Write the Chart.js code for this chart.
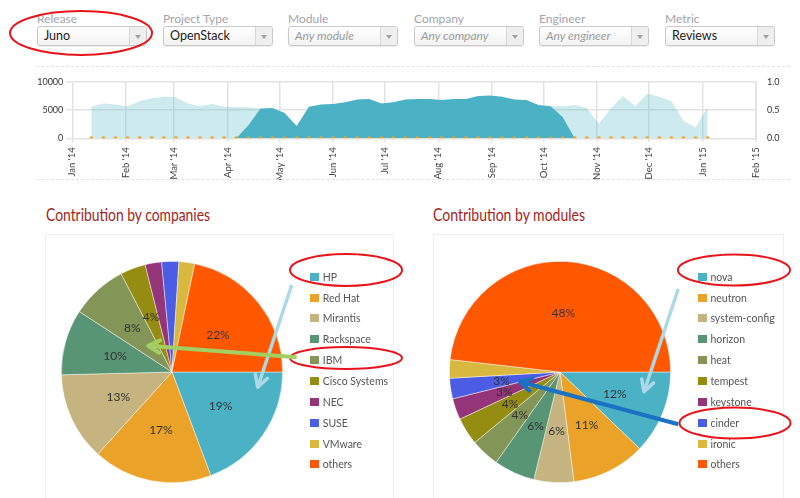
<!DOCTYPE html>
<html>
<head>
<meta charset="utf-8">
<script src="https://cdn.jsdelivr.net/npm/chart.js@4.4.1/dist/chart.umd.min.js"></script>
<style>
  html, body { margin: 0; padding: 0; background: #fff; }
  body { width: 800px; height: 498px; position: relative; overflow: hidden; font-family: Lato, "Noto Sans", sans-serif; }
  .filter { position: absolute; top: 11px; width: 110px; }
  .filter label { display: block; font-size: 12px; color: #a3a3ab; height: 15px; line-height: 15px; }
  .select { position: relative; height: 18px; border: 1px solid #c9c9c9; border-radius: 3px;
            background: linear-gradient(#fff, #f2f2f2); box-shadow: 0 1px 1px rgba(0,0,0,0.08); }
  .select span { position: absolute; left: 6px; top: 0; line-height: 18px; font-size: 12.5px; color: #222; }
  .select span.empty { font-style: italic; color: #9a9a9a; font-size: 12px; }
  .select i { position: absolute; right: 0; top: 0; width: 16px; height: 18px; border-left: 1px solid #d8d8d8;
              background: #efefef; border-radius: 0 3px 3px 0; }
  .select i:after { content: ""; position: absolute; left: 5px; top: 8px; border-left: 3px solid transparent;
                    border-right: 3px solid transparent; border-top: 4px solid #a0a0a0; }
  .dots { position: absolute; left: 36px; width: 754px; height: 0; border-top: 1px dashed #e2e2e2; }
  #timeline { position: absolute; left: 0; top: 66px; }
  .title { position: absolute; top: 205px; font-size: 17px; line-height: 20px; color: #a3241c;
           white-space: nowrap; transform-origin: 0 50%; }
  .box { position: absolute; top: 234px; height: 280px; border: 1px solid #efefef; }
  .pie { position: absolute; top: 235px; }
  .legend { position: absolute; top: 0; left: 0; margin: 0; padding: 0; list-style: none; }
  .legend li { position: absolute; height: 20px; line-height: 20px; font-size: 10.5px; color: #555; white-space: nowrap; }
  .legend li b { position: absolute; left: 0; top: 6px; width: 9px; height: 8px; }
  .legend li span { position: absolute; left: 12.7px; top: 0; }
  #notes { position: absolute; left: 0; top: 0; pointer-events: none; }
</style>
</head>
<body>

<div class="filter" style="left:37px"><label>Release</label><div class="select"><span>Juno</span><i></i></div></div>
<div class="filter" style="left:163px"><label>Project Type</label><div class="select"><span>OpenStack</span><i></i></div></div>
<div class="filter" style="left:288px"><label>Module</label><div class="select"><span class="empty">Any module</span><i></i></div></div>
<div class="filter" style="left:414px"><label>Company</label><div class="select"><span class="empty">Any company</span><i></i></div></div>
<div class="filter" style="left:539px"><label>Engineer</label><div class="select"><span class="empty">Any engineer</span><i></i></div></div>
<div class="filter" style="left:665px"><label>Metric</label><div class="select"><span>Reviews</span><i></i></div></div>

<div class="dots" style="top:66px"></div>
<canvas id="timeline" width="800" height="114"></canvas>
<div class="dots" style="top:179px"></div>

<div class="title" style="left:46px" data-w="164">Contribution by companies</div>
<div class="title" style="left:433px" data-w="152">Contribution by modules</div>
<div class="box" style="left:45px; width:347px"></div>
<div class="box" style="left:433px; width:349px"></div>
<canvas id="companies" class="pie" style="left:46px" width="347" height="263"></canvas>
<canvas id="modules" class="pie" style="left:434px" width="349" height="263"></canvas>
<ul id="companyLegend" class="legend"></ul>
<ul id="moduleLegend" class="legend"></ul>

<svg id="notes" width="800" height="498"></svg>

<script>
const FONT = 'Lato, "Noto Sans", sans-serif';

// weekly points of the timeline (week start dates)
const weeks = [
  '2014-01-12', '2014-01-19', '2014-01-26', '2014-02-02', '2014-02-09', '2014-02-16', '2014-02-23',
  '2014-03-02', '2014-03-09', '2014-03-16', '2014-03-23', '2014-03-30', '2014-04-06', '2014-04-13',
  '2014-04-20', '2014-04-27', '2014-05-04', '2014-05-11', '2014-05-18', '2014-05-25', '2014-06-01',
  '2014-06-08', '2014-06-15', '2014-06-22', '2014-06-29', '2014-07-06', '2014-07-13', '2014-07-20',
  '2014-07-27', '2014-08-03', '2014-08-10', '2014-08-17', '2014-08-24', '2014-08-31', '2014-09-07',
  '2014-09-14', '2014-09-21', '2014-09-28', '2014-10-05', '2014-10-12', '2014-10-19', '2014-10-26',
  '2014-11-02', '2014-11-09', '2014-11-16', '2014-11-23', '2014-11-30', '2014-12-07', '2014-12-14',
  '2014-12-21', '2014-12-28', '2015-01-04'
];
// reviews outside the selected release (light area)
const otherReviews = [
  5600, 6200, 6000, 5700, 6600, 7100, 7400, 7300, 6200, 5700, 6100, 5600, 5500, 5500, 5300,
  null, null, null, null, null, null, null, null, null, null, null, null, null, null, null,
  null, null, null, null, null, null, null, null,
  5700, 5700, 5900, 5400, 2600, 5400, 7500, 5700, 7900, 7400, 6600, 3100, 1900, 5600
];
// reviews in Juno (dark area)
const junoReviews = [
  null, null, null, null, null, null, null, null, null, null, null, null,
  0, 2300, 5300, 5400, 4500, 2200, 5600, 6000, 6100, 6400, 6900, 7000, 6200, 6400, 6900, 7000,
  7000, 6800, 7000, 7000, 7500, 7600, 7400, 6900, 6800, 5900, 5700, 3800, 0,
  null, null, null, null, null, null, null, null, null, null, null
];
// right axis series (all zero)
const secondary = [
  0, 0, 0, 0, 0, 0, 0, 0, 0, 0, 0, 0, 0, 0, 0, 0, 0, 0, 0, 0, 0, 0, 0, 0, 0, 0,
  0, 0, 0, 0, 0, 0, 0, 0, 0, 0, 0, 0, 0, 0, 0, 0, 0, 0, 0, 0, 0, 0, 0, 0, 0, 0
];
const monthTicks = [
  '2014-01-01', '2014-02-01', '2014-03-01', '2014-04-01', '2014-05-01', '2014-06-01', '2014-07-01',
  '2014-08-01', '2014-09-01', '2014-10-01', '2014-11-01', '2014-12-01', '2015-01-01', '2015-02-01'
];
const monthLabels = ["Jan '14", "Feb '14", "Mar '14", "Apr '14", "May '14", "Jun '14", "Jul '14",
                     "Aug '14", "Sep '14", "Oct '14", "Nov '14", "Dec '14", "Jan '15", "Feb '15"];

const companies = ['HP', 'Red Hat', 'Mirantis', 'Rackspace', 'IBM', 'Cisco Systems', 'NEC', 'SUSE', 'VMware', 'others'];
const companyShare = [19.3, 17.4, 12.9, 9.6, 8.2, 3.7, 2.4, 2.5, 2.3, 21.7];
const modules = ['nova', 'neutron', 'system-config', 'horizon', 'heat', 'tempest', 'keystone', 'cinder', 'ironic', 'others'];
const moduleShare = [12.2, 10.8, 5.8, 6.0, 4.2, 4.0, 3.1, 3.0, 2.7, 48.2];

const palette = ['#4bb2c5', '#eaa228', '#c5b47f', '#579575', '#839557', '#958c12', '#953579', '#4b5de4', '#d8b83f', '#ff5800'];

function dayOf(s) {
  const p = s.split('-').map(Number);
  return (Date.UTC(p[0], p[1] - 1, p[2]) - Date.UTC(2014, 0, 1)) / 86400000;
}
const weekDays = weeks.map(dayOf);
const monthDays = monthTicks.map(dayOf);
const points = vals => weekDays.map((x, i) => ({ x: x, y: vals[i] }));

const gridColor = '#e3e3e3';

new Chart(document.getElementById('timeline'), {
  type: 'line',
  data: {
    datasets: [
      { data: points(secondary), yAxisID: 'y2', showLine: false, pointRadius: 2, pointBorderWidth: 0,
        pointBackgroundColor: '#eaa228', order: 0 },
      { data: points(junoReviews), yAxisID: 'y', fill: 'origin', backgroundColor: '#4bb2c5',
        borderWidth: 0, pointRadius: 0, spanGaps: false, order: 1 },
      { data: points(otherReviews), yAxisID: 'y', fill: 'origin', backgroundColor: 'rgba(75,178,197,0.28)',
        borderWidth: 0, pointRadius: 0, spanGaps: false, order: 2 }
    ]
  },
  options: {
    responsive: false,
    animation: false,
    layout: { padding: { top: 16 } },
    plugins: { legend: { display: false }, tooltip: { enabled: false } },
    scales: {
      x: {
        type: 'linear', min: monthDays[0], max: monthDays[monthDays.length - 1],
        afterBuildTicks: s => { s.ticks = monthDays.map(v => ({ value: v })); },
        afterFit: s => { s.height = 41.7; },
        ticks: { autoSkip: false, minRotation: 90, maxRotation: 90, padding: 5, color: '#444',
                 font: { size: 9.5, family: FONT }, callback: (v, i) => monthLabels[i] },
        grid: { color: gridColor, lineWidth: 1.5, tickLength: 4 },
        border: { color: gridColor }
      },
      y: {
        position: 'left', min: 0, max: 10000,
        afterFit: s => { s.width = 72.3; },
        ticks: { stepSize: 5000, padding: 3, color: '#333', font: { size: 9, family: FONT }, callback: v => String(v) },
        grid: { color: gridColor, lineWidth: 1.5, tickLength: 6 },
        border: { color: gridColor }
      },
      y2: {
        position: 'right', min: 0, max: 1,
        afterFit: s => { s.width = 44; },
        ticks: { stepSize: 0.5, padding: 3, color: '#333', font: { size: 9, family: FONT }, callback: v => v.toFixed(1) },
        grid: { display: false },
        border: { color: gridColor }
      }
    }
  }
});

// percentage labels inside the slices
const sliceLabels = {
  id: 'sliceLabels',
  afterDatasetsDraw(chart) {
    const ctx = chart.ctx;
    const values = chart.data.datasets[0].data;
    const total = values.reduce((a, b) => a + b, 0);
    ctx.save();
    ctx.font = '12px ' + FONT;
    ctx.fillStyle = '#333';
    ctx.textAlign = 'center';
    ctx.textBaseline = 'middle';
    chart.getDatasetMeta(0).data.forEach((arc, i) => {
      const pct = values[i] / total * 100;
      if (pct < 3) return;
      const p = arc.getProps(['x', 'y', 'startAngle', 'endAngle', 'outerRadius'], true);
      const mid = (p.startAngle + p.endAngle) / 2;
      const r = p.outerRadius * 0.535;
      ctx.fillText(Math.round(pct) + '%', p.x + Math.cos(mid) * r, p.y + Math.sin(mid) * r);
    });
    ctx.restore();
  }
};

function makePie(id, labels, values, padRight, legendId, legendX) {
  const chart = new Chart(document.getElementById(id), {
    type: 'pie',
    data: { labels: labels, datasets: [{ data: values, backgroundColor: palette,
            borderColor: 'rgba(255,255,255,0.55)', borderWidth: 0.8 }] },
    options: {
      responsive: false,
      animation: false,
      rotation: 90,
      layout: { padding: { left: 15, right: padRight, top: 26, bottom: 15 } },
      plugins: { legend: { display: false }, tooltip: { enabled: false } }
    },
    plugins: [sliceLabels]
  });
  // html legend built from the chart's own legend items
  const ul = document.getElementById(legendId);
  const items = Chart.overrides.pie.plugins.legend.labels.generateLabels(chart);
  items.forEach((it, i) => {
    const li = document.createElement('li');
    li.style.left = legendX + 'px';
    li.style.top = (266.7 + i * 20.85) + 'px';
    li.innerHTML = '<b style="background:' + it.fillStyle + '"></b><span>' + it.text + '</span>';
    ul.appendChild(li);
  });
  return chart;
}

makePie('companies', companies, companyShare, 110, 'companyLegend', 310);
makePie('modules', modules, moduleShare, 112, 'moduleLegend', 697.7);

// squeeze the section titles to the width of the original narrow face
document.querySelectorAll('.title').forEach(el => {
  const k = Number(el.dataset.w) / el.getBoundingClientRect().width;
  if (k < 1) el.style.transform = 'scaleX(' + k.toFixed(3) + ')';
});

// hand-drawn annotations on top of the screenshot
const svg = document.getElementById('notes');
const NS = 'http://www.w3.org/2000/svg';
function add(tag, attrs) {
  const el = document.createElementNS(NS, tag);
  for (const k in attrs) el.setAttribute(k, attrs[k]);
  svg.appendChild(el);
}
function ring(cx, cy, rx, ry) {
  add('ellipse', { cx: cx, cy: cy, rx: rx, ry: ry, fill: 'none', stroke: '#e8141b', 'stroke-width': 2 });
}
function arrow(x1, y1, x2, y2, color, w) {
  add('line', { x1: x1, y1: y1, x2: x2, y2: y2, stroke: color, 'stroke-width': w });
  const a = Math.atan2(y2 - y1, x2 - x1), L = 13, s = 0.5;
  const p1 = [x2 - L * Math.cos(a - s), y2 - L * Math.sin(a - s)];
  const p2 = [x2 - L * Math.cos(a + s), y2 - L * Math.sin(a + s)];
  add('polyline', { points: p1.join(',') + ' ' + x2 + ',' + y2 + ' ' + p2.join(','), fill: 'none',
                    stroke: color, 'stroke-width': w, 'stroke-linecap': 'round', 'stroke-linejoin': 'round' });
}
ring(81, 33, 71, 22);
ring(346, 270, 56, 16);
ring(346, 358, 56, 11);
ring(734, 270, 56, 15.5);
ring(735, 423, 55.5, 15.5);
arrow(291.7, 285, 257.7, 387.3, '#add8e6', 3.5);
arrow(296.7, 357.3, 148.3, 345.7, '#a3cf62', 4);
arrow(678.3, 289, 644, 391.7, '#add8e6', 3.5);
arrow(678.3, 424.3, 520, 381.7, '#1a72c4', 4);
</script>
</body>
</html>
